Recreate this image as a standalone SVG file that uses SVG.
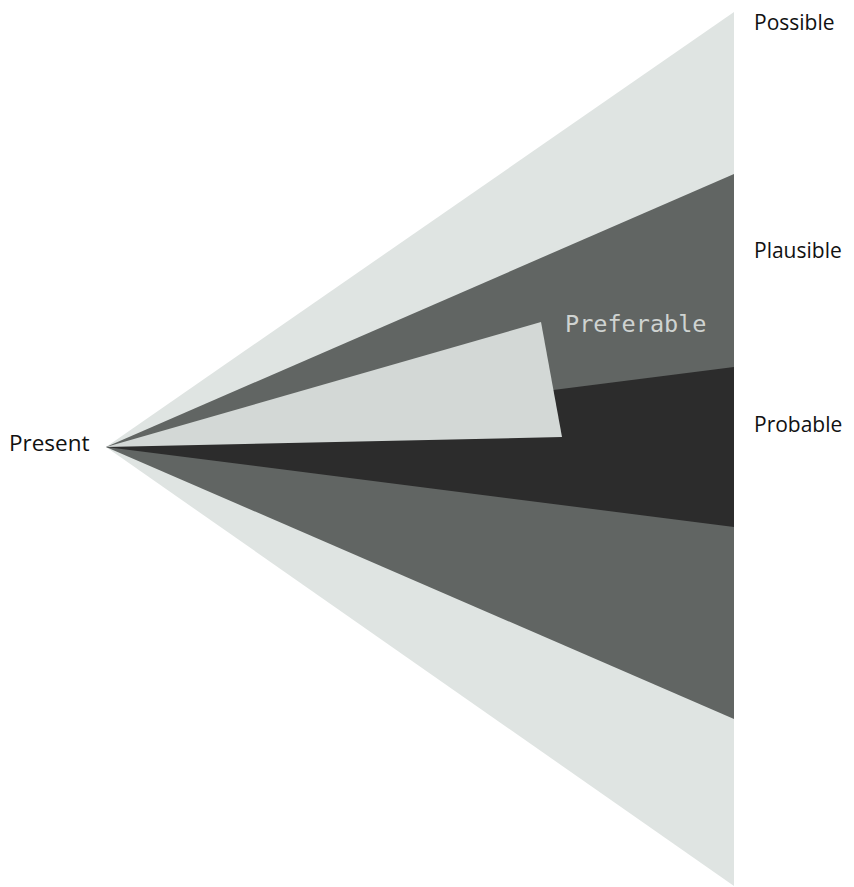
<svg xmlns="http://www.w3.org/2000/svg" width="854" height="887" viewBox="0 0 854 887">
<style>
.lbl{font-family:"Open Sans","Liberation Sans",sans-serif;font-size:21px;fill:#111111}
.mono{font-family:"DejaVu Sans Mono","Liberation Mono",monospace;font-size:23.5px;fill:#cfd3d1}
</style>
<rect width="854" height="887" fill="#ffffff"/>
<g id="possible"><polygon points="106,447 734,12 734,886" fill="#dfe4e2"/></g>
<g id="plausible"><polygon points="106,447 734,174 734,719" fill="#616563"/></g>
<g id="probable"><polygon points="106,447 734,367 734,527" fill="#2c2c2c"/></g>
<g id="preferable"><polygon points="106,447 541,322 562,437" fill="#d3d8d6"/></g>
<g id="labels">
<text class="lbl" x="754" y="30">Possible</text>
<text class="lbl" x="754" y="258">Plausible</text>
<text class="lbl" x="754" y="432">Probable</text>
<text class="lbl" x="9" y="451" style="font-size:22.5px">Present</text>
<text class="mono" x="565" y="332">Preferable</text>
</g>
</svg>
